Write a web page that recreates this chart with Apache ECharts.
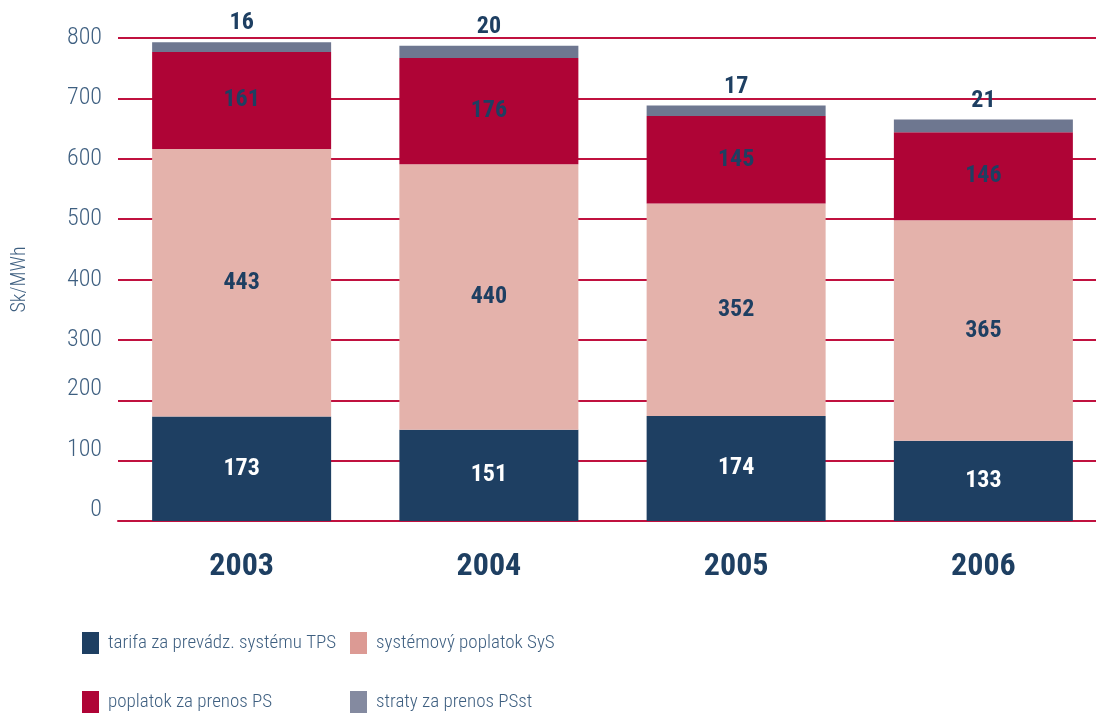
<!DOCTYPE html>
<html><head><meta charset="utf-8">
<script src="https://cdn.jsdelivr.net/npm/echarts@6/dist/echarts.min.js"></script>
<style>html,body{margin:0;padding:0;background:#fff}#c{width:1096px;height:714px}</style>
</head><body><div id="c"></div>
<script>
const categories = ['2003','2004','2005','2006'];
const tps  = [173, 151, 174, 133];
const sys  = [443, 440, 352, 365];
const ps   = [161, 176, 145, 146];
const psst = [16, 20, 17, 21];
const yTicks = [0,100,200,300,400,500,600,700,800];
const names = ['tarifa za prevádz. systému TPS','systémový poplatok SyS','poplatok za prenos PS','straty za prenos PSst'];

const FONT = '"Roboto Condensed","Liberation Sans Narrow",Lato,sans-serif';
const NAVY = '#1e3f62', PINK = '#e4b2ab', RED = '#af0436', GRAY = '#6e7790';
const TXT = '#3e5f80';
const GRID = '#c0113f';

const chart = echarts.init(document.getElementById('c'));
function lbl(color){ return {show:true, position:'inside', color:color, fontFamily:FONT, fontWeight:'bold', fontSize:24}; }
const legText = {color:TXT, fontFamily:FONT, fontSize:19, fontWeight:300, padding:[0,0,0,4]};
function leg(name, color, left, top){
  return {left:left, top:top, itemWidth:17, itemHeight:22, icon:'rect', textStyle:legText,
          data:[{name:name, itemStyle:{color:color}}]};
}
chart.setOption({
  animation:false,
  grid:{left:118, right:-11, top:38, bottom:193, containLabel:false, outerBoundsMode:'none'},
  xAxis:{type:'category', data:categories,
    axisTick:{show:false},
    axisLine:{lineStyle:{color:GRID, width:2}},
    axisLabel:{color:NAVY, fontFamily:FONT, fontWeight:'bold', fontSize:32, margin:30}},
  yAxis:{type:'value', min:yTicks[0], max:yTicks[yTicks.length-1], interval:100,
    name:'Sk/MWh', nameLocation:'middle', nameGap:88, nameRotate:90,
    nameTextStyle:{color:TXT, fontFamily:FONT, fontSize:20, fontWeight:300},
    axisLine:{show:false}, axisTick:{show:false},
    splitLine:{lineStyle:{color:GRID, width:2}},
    axisLabel:{margin:16, fontFamily:FONT, fontSize:24, color:TXT,
      formatter:function(v){ return v<=200 ? '{lo|'+v+'}' : '{n|'+v+'}'; },
      rich:{lo:{fontFamily:FONT, fontSize:24, fontWeight:300, color:TXT, padding:[0,0,22,0]},
            n:{fontFamily:FONT, fontSize:24, fontWeight:300, color:TXT}}}},
  legend:[
    leg(names[0], NAVY, 77, 627),
    leg(names[2], RED, 77, 686),
    leg(names[1], '#dc9a94', 345, 627),
    leg(names[3], '#848aa0', 345, 686)
  ],
  series:[
    {name:names[0], type:'bar', stack:'a', data:tps, barWidth:179, itemStyle:{color:NAVY}, label:lbl('#ffffff')},
    {name:names[1], type:'bar', stack:'a', data:sys, itemStyle:{color:PINK}, label:lbl(NAVY)},
    {name:names[2], type:'bar', stack:'a', data:ps, itemStyle:{color:RED}, label:lbl(NAVY)},
    {name:names[3], type:'bar', stack:'a', data:psst, itemStyle:{color:GRAY},
     label:Object.assign(lbl(NAVY), {position:'top', distance:7})}
  ]
});
</script></body></html>
